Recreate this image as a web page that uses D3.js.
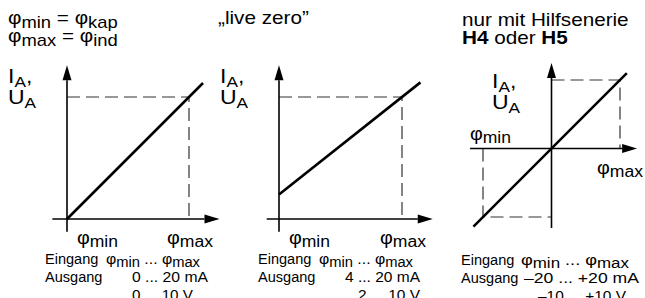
<!DOCTYPE html>
<html>
<head>
<meta charset="utf-8">
<script src="https://cdn.jsdelivr.net/npm/d3@7"></script>
<style>
body{margin:0;background:#fff}
svg{display:block}
text{font-family:"Liberation Sans",Arial,Helvetica,sans-serif;fill:#000;white-space:pre}
</style>
</head>
<body>
<div class="visualisation"></div>
<script>
//DATA
const phiMin = [0, 0, -1];          // input start (relative)
const phiMax = [1, 1, 1];           // input end
const outMin = [0, 4, -20];         // output at phi min, mA
const outMax = [20, 20, 20];        // output at phi max, mA
const characteristic = [            // [phi, mA] ends of the drawn line
	[[0, 0], [1.115, 22.3]],
	[[0, 4], [1.15, 22.4]],
	[[-1.14, -22.8], [1.1, 22]]
];
const currentRanges = ["0 ... 20 mA", "4 ... 20 mA", "\u201320 ... +20 mA"];
const voltageRanges = ["0 ... 10 V", "2 ... 10 V", "\u201310 ... +10 V"];
const headTexts = [
	["\u03c6_{min} = \u03c6_{kap}", "\u03c6_{max} = \u03c6_{ind}"],
	["\u201elive zero\u201d"],
	["nur mit Hilfsenerie", "*H4* oder *H5*"]
];
const yLabel = ["I_{A},", "U_{A}"];
const inputRange = "\u03c6_{min} ... \u03c6_{max}";
const inputText = "Eingang", outputText = "Ausgang";

//LAYOUT
const STRETCH = 1.15;
const W = 645, H = 298;
const frames = [
	{x: [67, 189], y: [219, 97], xr: [-0.12, 1.25], yr: [-2.1, 25.2], head: [8, 24], lab: [8, 83], pmin: [77, 244], pmax: [167, 244],
	 tx: 45, ty: 264, inp: [106, 94], cur: [132, 76], volt: [132, 61]},
	{x: [279, 402], y: [219, 97], xr: [-0.1, 1.25], yr: [-2.1, 25.2], head: [218, 24], lab: [220, 83], pmin: [289, 244], pmax: [380, 244],
	 tx: 258, ty: 264, inp: [319, 94], cur: [345, 75], volt: [358, 62]},
	{x: [483, 620], y: [217, 80], xr: [-1.19, 1.25], yr: [-23.2, 25], head: [462, 26], lab: [492, 88], pmin: [470, 140], pmax: [597, 174],
	 tx: 461, ty: 265, inp: [521, 108], cur: [524, 115], volt: [538, 88]}
];

const svg = d3.select(".visualisation").append("svg")
	.attr("width", W)
	.attr("height", H);

//rich text: _{..} subscript, *..* bold
function rich(g, str, x, y, o){
	const sx = o.len ? 1 : (o.sx || STRETCH);
	const t = g.append("text")
		.attr("transform", "translate(" + x + "," + y + ") scale(" + sx + ",1)")
		.attr("font-size", o.size);
	if (o.len) t.attr("textLength", o.len).attr("lengthAdjust", "spacingAndGlyphs");
	let shifted = 0;
	str.split(/(_\{[^}]*\}|\*[^*]*\*)/).filter(s => s).forEach(s => {
		const sub = s.startsWith("_{"), bold = s.startsWith("*");
		const txt = sub ? s.slice(2, -1) : bold ? s.slice(1, -1) : s;
		const want = sub ? o.shift : 0;
		const sp = t.append("tspan").text(txt).attr("dy", want - shifted);
		shifted = want;
		if (sub) sp.attr("font-size", o.sub);
		if (bold) sp.attr("font-weight", "bold");
	});
	return t;
}

function arrow(g, x1, y1, x2, y2){
	const len = 15, half = 4.5;
	const dx = x2 - x1, dy = y2 - y1, d = Math.hypot(dx, dy);
	const ux = dx / d, uy = dy / d;
	const bx = x2 - ux * len, by = y2 - uy * len;
	g.append("line")
		.attr("x1", x1).attr("y1", y1).attr("x2", bx).attr("y2", by)
		.attr("stroke", "#000").attr("stroke-width", 1.6);
	g.append("path")
		.attr("d", "M" + x2 + "," + y2 + "L" + (bx - uy * half) + "," + (by + ux * half) + "L" + (bx + uy * half) + "," + (by - ux * half) + "Z")
		.attr("fill", "#000");
}

const small = {size: 15, sub: 14, shift: 3, sx: 0.97};

frames.forEach((f, i) => {
	const g = svg.append("g");
	const x = d3.scaleLinear().domain([phiMin[i], phiMax[i]]).range(f.x);
	const y = d3.scaleLinear().domain(outMin[i] < 0 ? [outMin[i], outMax[i]] : [0, outMax[i]]).range(f.y);

	//guides
	let gd = "M" + x(0) + "," + y(outMax[i]) + "H" + x(phiMax[i]) + "V" + y(0);
	if (outMin[i] < 0) gd += "M" + x(phiMin[i]) + "," + y(0) + "V" + y(outMin[i]) + "H" + x(0);
	g.append("path")
		.attr("d", gd)
		.attr("fill", "none")
		.attr("stroke", "#333")
		.attr("stroke-width", 1.2)
		.attr("stroke-dasharray", "13,6");

	//axes
	arrow(g, x(f.xr[0]), y(0), x(f.xr[1]), y(0));
	arrow(g, x(0), y(f.yr[0]), x(0), y(f.yr[1]));

	//characteristic
	g.append("path")
		.datum(characteristic[i])
		.attr("d", d3.line().x(d => x(d[0])).y(d => y(d[1])))
		.attr("fill", "none")
		.attr("stroke", "#000")
		.attr("stroke-width", 2.6);

	//texts
	headTexts[i].forEach((s, k) => rich(g, s, f.head[0], f.head[1] + k * 18, {size: 18, sub: 16, shift: 4}));
	yLabel.forEach((s, k) => rich(g, s, f.lab[0], f.lab[1] + k * 21, {size: 20, sub: 15, shift: 4}));
	rich(g, "\u03c6_{min}", f.pmin[0], f.pmin[1], {size: 18, sub: 16, shift: 3, len: 41});
	rich(g, "\u03c6_{max}", f.pmax[0], f.pmax[1], {size: 18, sub: 16, shift: 3, len: 46});
	rich(g, inputText, f.tx, f.ty, small);
	rich(g, inputRange, f.inp[0], f.ty, {size: 15, sub: 14, shift: 3, len: f.inp[1]});
	rich(g, outputText, f.tx, f.ty + 18, small);
	rich(g, currentRanges[i], f.cur[0], f.ty + 18, {size: 15, len: f.cur[1]});
	rich(g, voltageRanges[i], f.volt[0], f.ty + 36, {size: 15, len: f.volt[1]});
});
</script>
</body>
</html>
